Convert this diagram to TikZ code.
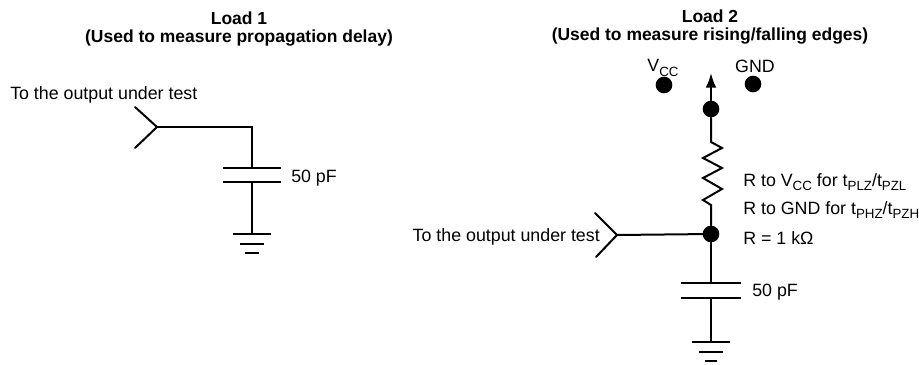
\documentclass[tikz,border=0pt]{standalone}
\usepackage{fontspec}
\setmainfont{Liberation Sans}
\usetikzlibrary{arrows.meta}
\newcommand{\subt}[1]{\raisebox{-0.24em}{\fontsize{10}{10}\selectfont #1}}
\tikzset{
  wire/.style={line width=1.5pt,line cap=round,line join=miter},
  plate/.style={line width=1.7pt},
  dot/.style={circle,fill=black,inner sep=0pt,minimum size=12.5pt},
  label/.style={inner sep=0pt,font=\fontsize{13.35}{15}\selectfont},
  heading/.style={inner sep=0pt,font=\fontsize{13.1}{15}\selectfont\bfseries},
}
\begin{document}
\begin{tikzpicture}[x=0.75pt,y=-0.75pt]
\useasboundingbox (0,0) rectangle (919,364);
% Load 1
\node[heading] (t1a) at (239,18) {Load 1};
\node[heading] (t1b) at (239,38) {(Used to measure propagation delay)};
\node[label,anchor=west] (in1) at (10,95) {To the output under test};
\coordinate (f1a) at (135,107);
\coordinate (f1) at (157,127);
\coordinate (f1b) at (135,148);
\coordinate (c1) at (252,127);
\coordinate (p1a) at (252,168);
\coordinate (p1b) at (252,182);
\coordinate (g1) at (252,234);
\draw[wire] (f1a) -- (f1) -- (f1b);
\draw[wire] (f1) -- (c1) -- (p1a);
\draw[plate] ([xshift=-29*0.75pt]p1a) -- ([xshift=29*0.75pt]p1a);
\draw[plate] ([xshift=-29*0.75pt]p1b) -- ([xshift=29*0.75pt]p1b);
\draw[wire] (p1b) -- (g1);
\draw[plate] ([xshift=-19*0.75pt]g1) -- ([xshift=19*0.75pt]g1);
\draw[plate] ([xshift=-12*0.75pt,yshift=-10*0.75pt]g1) -- ([xshift=12*0.75pt,yshift=-10*0.75pt]g1);
\draw[plate] ([xshift=-7*0.75pt,yshift=-19*0.75pt]g1) -- ([xshift=7*0.75pt,yshift=-19*0.75pt]g1);
\node[label,anchor=west] (v1) at (291,178) {50 pF};
% Load 2
\node[heading] (t2a) at (710,16) {Load 2};
\node[heading] (t2b) at (710,36) {(Used to measure rising/falling edges)};
\node[label] (vcc) at (663,68) {V\subt{CC}};
\node[label] (gnd) at (755,66) {GND};
\node[dot] (dv) at (664,85) {};
\node[dot] (dg) at (753,84) {};
\node[dot] (dt) at (711,109) {};
\node[dot] (dm) at (711,234) {};
\coordinate (tip) at (711,73);
\coordinate (f2a) at (595,213);
\coordinate (f2) at (617,235);
\coordinate (f2b) at (596,257);
\coordinate (p2a) at (711,283);
\coordinate (p2b) at (711,298);
\coordinate (g2) at (711,342);
\draw[wire,-{Latex[length=11pt,width=8pt]}] (dt) -- (tip);
\draw[wire] (dt) -- (711,142) -- (722,148) -- (703,158) -- (722,168) -- (703,178) -- (722,189) -- (703,200) -- (711,205) -- (dm);
\draw[wire] (f2a) -- (f2) -- (f2b);
\draw[wire] (f2) -- (dm);
\draw[wire] (dm) -- (p2a);
\draw[plate] ([xshift=-30*0.75pt]p2a) -- ([xshift=30*0.75pt]p2a);
\draw[plate] ([xshift=-30*0.75pt]p2b) -- ([xshift=30*0.75pt]p2b);
\draw[wire] (p2b) -- (g2);
\draw[plate] ([xshift=-19*0.75pt]g2) -- ([xshift=19*0.75pt]g2);
\draw[plate] ([xshift=-12*0.75pt,yshift=-10*0.75pt]g2) -- ([xshift=12*0.75pt,yshift=-10*0.75pt]g2);
\draw[plate] ([xshift=-6*0.75pt,yshift=-19*0.75pt]g2) -- ([xshift=6*0.75pt,yshift=-19*0.75pt]g2);
\node[label,anchor=east] (in2) at (600,237) {To the output under test};
\node[label,anchor=west] (r1) at (743,182) {R to V\subt{CC} for t\subt{PLZ}/t\subt{PZL}};
\node[label,anchor=west] (r2) at (743,210) {R to GND for t\subt{PHZ}/t\subt{PZH}};
\node[label,anchor=west] (r3) at (743,238) {R = 1 kΩ};
\node[label,anchor=west] (v2) at (752,292) {50 pF};
\end{tikzpicture}
\end{document}
